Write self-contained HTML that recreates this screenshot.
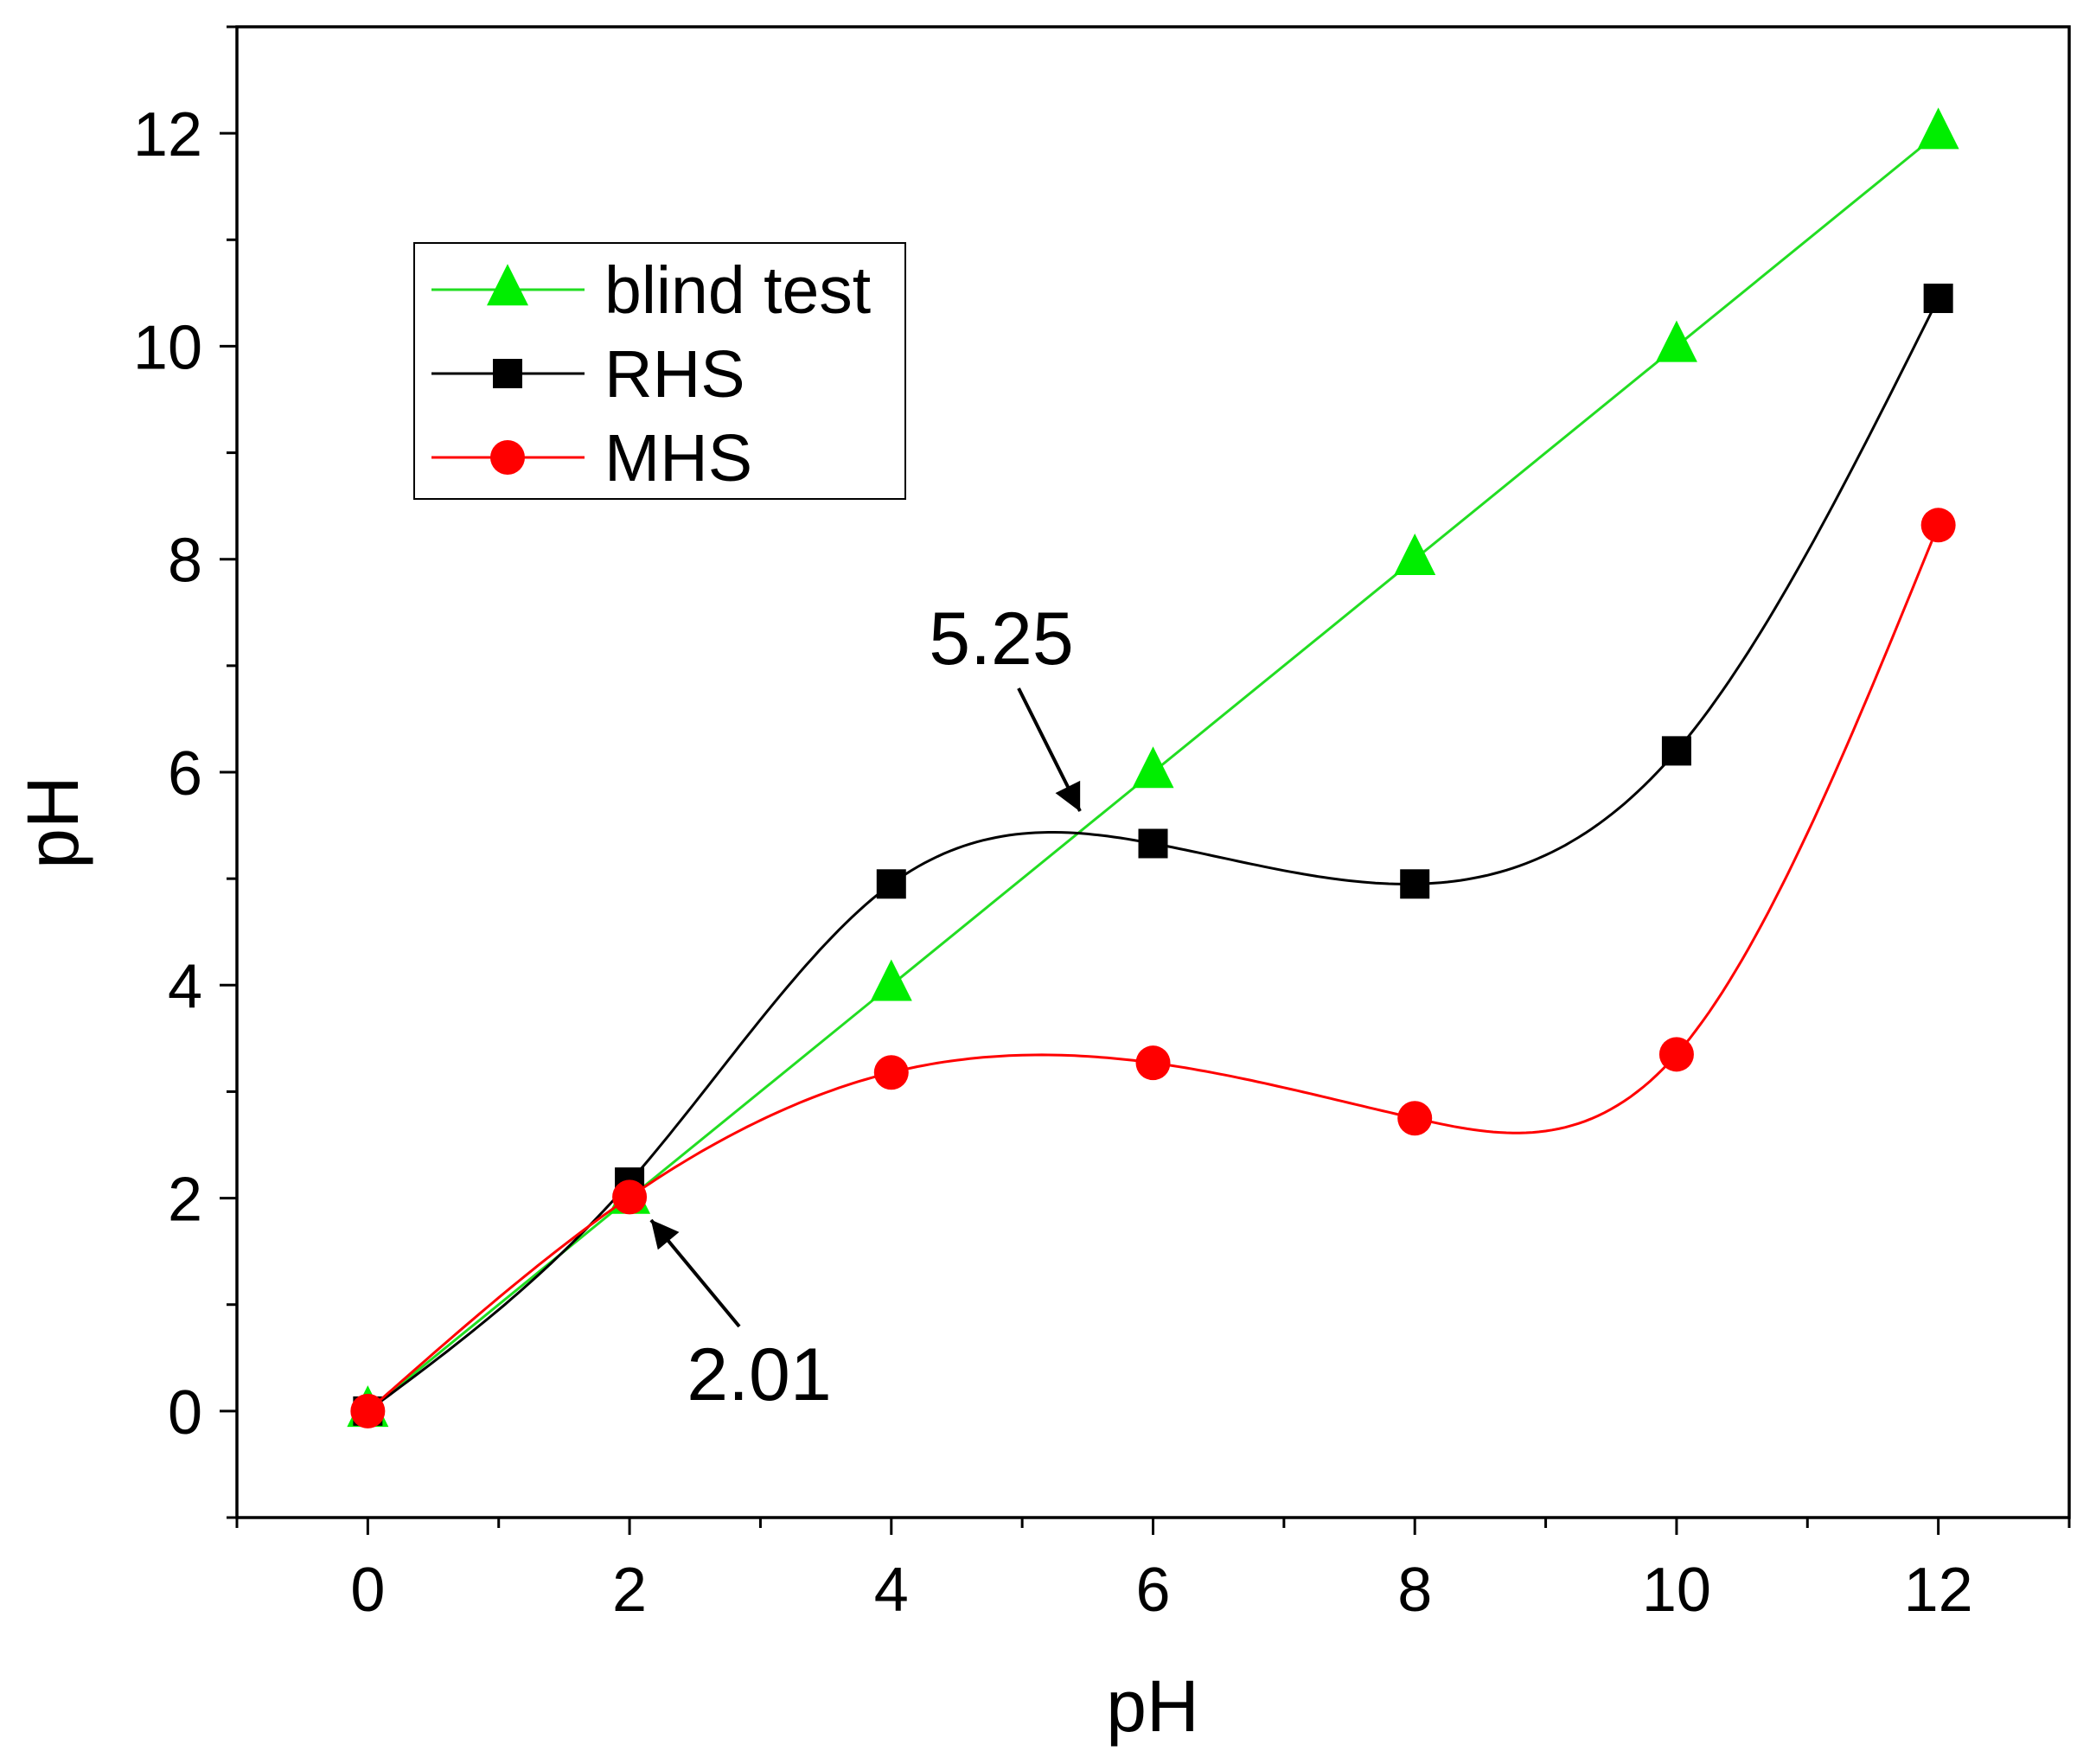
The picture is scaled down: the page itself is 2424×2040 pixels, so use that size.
<!DOCTYPE html>
<html><head><meta charset="utf-8"><style>
html,body{margin:0;padding:0;background:#fff;}
svg{display:block;font-family:"Liberation Sans",Arial,sans-serif;}
</style></head><body>
<svg id="chart" width="2424" height="2040" viewBox="0 0 2424 2040" xmlns="http://www.w3.org/2000/svg"></svg>
<script>
const xValues = [0, 2, 4, 6, 8, 10, 12];
const blindValues = [0, 2, 4, 6, 8, 10, 12];
const rhsValues = [0, 2.15, 4.95, 5.33, 4.95, 6.2, 10.45];
const mhsValues = [0, 2.01, 3.18, 3.27, 2.75, 3.35, 8.32];
const xTicks = [0, 2, 4, 6, 8, 10, 12];
const yTicks = [0, 2, 4, 6, 8, 10, 12];

const L = 274, R = 2393, T = 31, B = 1755;
const X0 = -1, X1 = 13, Y0 = -1, Y1 = 13;
const sx = v => L + (v - X0) / (X1 - X0) * (R - L);
const sy = v => B - (v - Y0) / (Y1 - Y0) * (B - T);
const svg = document.getElementById('chart');
const NS = 'http://www.w3.org/2000/svg';
function mk(tag, attrs, parent) {
  const e = document.createElementNS(NS, tag);
  for (const k in attrs) e.setAttribute(k, attrs[k]);
  (parent || svg).appendChild(e);
  return e;
}

const frame = mk('rect', {x: L, y: T, width: R - L, height: B - T, fill: 'none', stroke: '#000', 'stroke-width': 3.5});



for (let v = -1; v <= 13; v++) {
  const major = v % 2 === 0;
  const len = major ? 20 : 12;
  const tx = mk('line', {x1: sx(v), x2: sx(v), y1: B, y2: B + len, stroke: '#000', 'stroke-width': 3});
  
  
  const ty = mk('line', {x1: L - len, x2: L, y1: sy(v), y2: sy(v), stroke: '#000', 'stroke-width': 3});
  
  
}
xTicks.forEach(v => {
  const t = mk('text', {x: sx(v), y: B + 108, 'font-size': 72, 'text-anchor': 'middle'});
  t.textContent = v;
  
  
});
yTicks.forEach(v => {
  const t = mk('text', {x: L - 40, y: sy(v) + 26, 'font-size': 72, 'text-anchor': 'end'});
  t.textContent = v;
  
  
});
const xt = mk('text', {x: 1333, y: 2002, 'font-size': 84, 'text-anchor': 'middle'});
xt.textContent = 'pH';


const yt = mk('text', {x: 0, y: 0, 'font-size': 84, 'text-anchor': 'middle', transform: 'translate(90,951) rotate(-90)'});
yt.textContent = 'pH';



// natural cubic spline
function splinePath(xs, ys) {
  const n = xs.length;
  const h = [], a = [], l = [1], mu = [0], z = [0], c = new Array(n).fill(0), b = [], d = [];
  for (let i = 0; i < n - 1; i++) h.push(xs[i + 1] - xs[i]);
  for (let i = 1; i < n - 1; i++) a[i] = 3 / h[i] * (ys[i + 1] - ys[i]) - 3 / h[i - 1] * (ys[i] - ys[i - 1]);
  for (let i = 1; i < n - 1; i++) {
    l[i] = 2 * (xs[i + 1] - xs[i - 1]) - h[i - 1] * mu[i - 1];
    mu[i] = h[i] / l[i];
    z[i] = (a[i] - h[i - 1] * z[i - 1]) / l[i];
  }
  z[n - 1] = 0;
  for (let j = n - 2; j >= 0; j--) {
    c[j] = z[j] - mu[j] * c[j + 1];
    b[j] = (ys[j + 1] - ys[j]) / h[j] - h[j] * (c[j + 1] + 2 * c[j]) / 3;
    d[j] = (c[j + 1] - c[j]) / (3 * h[j]);
  }
  let pts = [];
  for (let j = 0; j < n - 1; j++) {
    for (let k = 0; k <= 40; k++) {
      if (j > 0 && k === 0) continue;
      const t = h[j] * k / 40;
      const y = ys[j] + b[j] * t + c[j] * t * t + d[j] * t * t * t;
      pts.push(sx(xs[j] + t).toFixed(1) + ',' + sy(y).toFixed(1));
    }
  }
  return 'M' + pts.join(' L');
}
function linePath(xs, ys) {
  return xs.map((x, i) => (i ? 'L' : 'M') + sx(x) + ',' + sy(ys[i])).join(' ');
}
function tri(g, cx, cy, s) {
  return mk('polygon', {points: `${cx},${cy - s * 0.62} ${cx - s / 2},${cy + s * 0.38} ${cx + s / 2},${cy + s * 0.38}`, fill: '#00ee00'}, g);
}

const gB = mk('g', {});


mk('path', {d: linePath(xValues, blindValues), fill: 'none', stroke: '#22dd22', 'stroke-width': 3}, gB);
const gR = mk('g', {});


mk('path', {d: splinePath(xValues, rhsValues), fill: 'none', stroke: '#000', 'stroke-width': 3}, gR);
const gM = mk('g', {});


mk('path', {d: splinePath(xValues, mhsValues), fill: 'none', stroke: '#ff0000', 'stroke-width': 3}, gM);

xValues.forEach((x, i) => {
  const t = tri(gB, sx(x), sy(blindValues[i]), 48);
  
  
});
xValues.forEach((x, i) => {
  const r = mk('rect', {x: sx(x) - 17, y: sy(rhsValues[i]) - 17, width: 34, height: 34, fill: '#000'}, gR);
  
  
});
xValues.forEach((x, i) => {
  const c = mk('circle', {cx: sx(x), cy: sy(mhsValues[i]), r: 20, fill: '#ff0000'}, gM);
  
  
});

const lg = mk('g', {});


mk('rect', {x: 479, y: 281, width: 568, height: 296, fill: '#fff', stroke: '#000', 'stroke-width': 2}, lg);
const entries = [['blind test', '#22dd22', 'tri'], ['RHS', '#000', 'sq'], ['MHS', '#ff0000', 'ci']];
entries.forEach((e, i) => {
  const y = 335 + i * 97;
  const g = mk('g', {}, lg);
  
  
  mk('line', {x1: 499, x2: 676, y1: y, y2: y, stroke: e[1], 'stroke-width': 3}, g);
  if (e[2] === 'tri') tri(g, 587, y, 48);
  else if (e[2] === 'sq') mk('rect', {x: 570, y: y - 17, width: 34, height: 34, fill: '#000'}, g);
  else mk('circle', {cx: 587, cy: y, r: 20, fill: '#ff0000'}, g);
  const t = mk('text', {x: 699, y: y + 27, 'font-size': 77}, g);
  t.textContent = e[0];
});

mk('defs', {}).innerHTML = '<marker id="ah" markerWidth="10" markerHeight="10" refX="9" refY="5" orient="auto" markerUnits="userSpaceOnUse" viewBox="0 0 10 10" style="overflow:visible"><path d="M0,0 L10,5 L0,10 z" transform="scale(3.2) translate(-7,-3.4)" fill="#000"/></marker>';
const a1 = mk('text', {x: 1158, y: 768, 'font-size': 86, 'text-anchor': 'middle'});
a1.textContent = '5.25';


const ar1 = mk('line', {x1: 1178, y1: 796, x2: 1249, y2: 938, stroke: '#000', 'stroke-width': 4, 'marker-end': 'url(#ah)'});


const a2 = mk('text', {x: 878, y: 1619, 'font-size': 86, 'text-anchor': 'middle'});
a2.textContent = '2.01';


const ar2 = mk('line', {x1: 855, y1: 1534, x2: 753, y2: 1411, stroke: '#000', 'stroke-width': 4, 'marker-end': 'url(#ah)'});


</script>
</body></html>
